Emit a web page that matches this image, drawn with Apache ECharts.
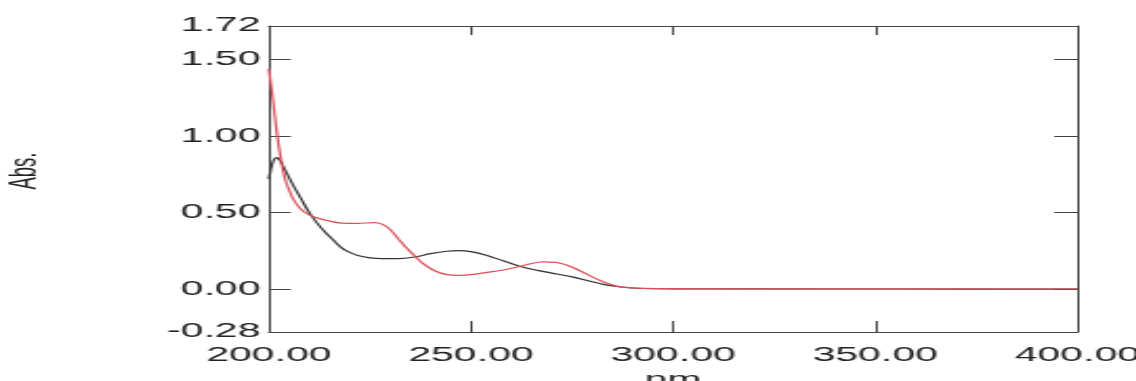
<!DOCTYPE html>
<html>
<head>
<meta charset="utf-8">
<script src="https://cdn.jsdelivr.net/npm/echarts@6/dist/echarts.min.js"></script>
<style>
  html, body { margin: 0; padding: 0; background: #fff; overflow: hidden; }
  /* the reference is a horizontally stretched instrument plot */
  #chart { width: 541px; height: 381px; transform: scaleX(2.1); transform-origin: 0 0; }
</style>
</head>
<body>
<div id="chart"></div>
<script>
var yLabelValues = [-0.28, 0, 0.5, 1, 1.5, 1.72]
var yTickValues = [0, 0.5, 1, 1.5]

// black trace: [nm, Abs]
var blackData = [
  [200, 0.72], [201, 0.83], [202, 0.86], [203, 0.83], [204, 0.78], [206, 0.68],
  [208, 0.59], [210, 0.5], [212, 0.43], [214, 0.37], [216, 0.32], [218, 0.27],
  [220, 0.24], [222, 0.22], [225, 0.205], [228, 0.2], [232, 0.2], [236, 0.21],
  [240, 0.232], [244, 0.248], [247, 0.252], [250, 0.245], [254, 0.22], [258, 0.185],
  [262, 0.15], [266, 0.125], [270, 0.105], [275, 0.08], [279, 0.055], [283, 0.03],
  [287, 0.014], [291, 0.006], [296, 0.003], [300, 0.002], [350, 0.001], [400, 0.0]
]
// red trace
var redData = [
  [200, 1.44], [201, 1.24], [202, 1.02], [203, 0.85], [204, 0.72], [205, 0.65],
  [206, 0.59], [208, 0.52], [210, 0.485], [212, 0.465], [215, 0.445], [218, 0.432],
  [222, 0.43], [226, 0.435], [228, 0.425], [230, 0.39], [232, 0.33], [234, 0.27],
  [236, 0.22], [238, 0.17], [241, 0.12], [244, 0.095], [247, 0.09], [250, 0.095],
  [254, 0.11], [258, 0.125], [262, 0.148], [265, 0.168], [268, 0.178], [271, 0.175],
  [274, 0.155], [277, 0.12], [280, 0.08], [283, 0.045], [286, 0.02], [289, 0.01],
  [293, 0.005], [300, 0.003], [350, 0.002], [400, 0.001]
]

var fontFamily = 'Liberation Sans'
var frameColor = '#444'
var myChart = echarts.init(document.getElementById('chart'))
var option = {
  animation: false,
  grid: { left: 128, right: 28, top: 26, bottom: 49, outerBoundsMode: 'none', containLabel: false },
  graphic: [
    {
      type: 'text',
      x: 12.4,
      y: 171,
      rotation: Math.PI / 2,
      style: {
        text: 'Abs.',
        fontFamily: fontFamily,
        fontSize: 18.5,
        fill: '#222',
        align: 'center',
        verticalAlign: 'middle'
      }
    }
  ],
  xAxis: [
    {
      type: 'value',
      min: 200,
      max: 400,
      interval: 50,
      name: 'nm',
      nameLocation: 'middle',
      nameGap: 33,
      nameTextStyle: { fontFamily: fontFamily, fontSize: 19.5, color: '#222' },
      axisLine: { onZero: false, lineStyle: { color: frameColor, width: 1 } },
      axisTick: { inside: true, length: 11, lineStyle: { color: frameColor } },
      axisLabel: {
        fontFamily: fontFamily, fontSize: 19.5, color: '#222', margin: 14,
        formatter: function(v) { return v.toFixed(2) }
      },
      splitLine: { show: false }
    },
    {
      type: 'value',
      position: 'top',
      min: 200,
      max: 400,
      interval: 50,
      axisLine: { show: true, onZero: false, lineStyle: { color: frameColor, width: 1 } },
      axisTick: { show: true, inside: true, length: 9, lineStyle: { color: frameColor } },
      axisLabel: { show: false },
      splitLine: { show: false }
    }
  ],
  yAxis: [
    {
      type: 'value',
      min: -0.28,
      max: 1.72,
      axisLine: { show: true, onZero: false, lineStyle: { color: frameColor, width: 1 } },
      axisTick: { show: true, inside: true, length: 10.5, customValues: yTickValues, lineStyle: { color: frameColor } },
      axisLabel: {
        fontFamily: fontFamily, fontSize: 19.5, color: '#222', margin: 4,
        customValues: yLabelValues,
        formatter: function(v) { return v.toFixed(2) }
      },
      splitLine: { show: false }
    },
    {
      type: 'value',
      position: 'right',
      min: -0.28,
      max: 1.72,
      axisLine: { show: true, onZero: false, lineStyle: { color: frameColor, width: 1 } },
      axisTick: { show: true, inside: true, length: 11, customValues: yTickValues, lineStyle: { color: frameColor } },
      axisLabel: { show: false },
      splitLine: { show: false }
    }
  ],
  series: [
    {
      name: 'black',
      type: 'line',
      data: blackData,
      smooth: 0.3,
      symbol: 'none',
      lineStyle: { color: '#333', width: 1.2 }
    },
    {
      name: 'red',
      type: 'line',
      data: redData,
      smooth: 0.3,
      symbol: 'none',
      lineStyle: { color: '#d9505a', width: 1.2 }
    }
  ]
}
myChart.setOption(option)
</script>
</body>
</html>
